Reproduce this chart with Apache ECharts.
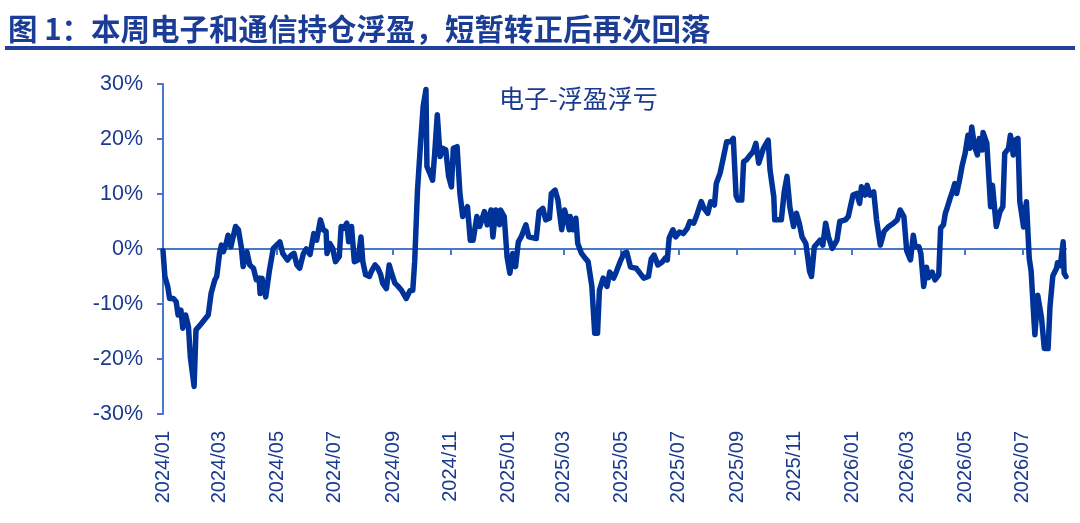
<!DOCTYPE html>
<html>
<head>
<meta charset="utf-8">
<script src="https://cdn.jsdelivr.net/npm/echarts@6/dist/echarts.min.js"></script>
<style>
  html, body { margin: 0; padding: 0; background: #fff; }
  #chart { width: 1080px; height: 523px; }
</style>
</head>
<body>
<div id="chart"></div>
<script>
// dates of each reading and the matching profit/loss, in %
const dates = [
  "2024-01-01","2024-01-03","2024-01-06","2024-01-08","2024-01-12","2024-01-15","2024-01-17","2024-01-20",
  "2024-01-22","2024-01-25","2024-01-28","2024-01-30","2024-02-03","2024-02-05","2024-02-11","2024-02-18",
  "2024-02-21","2024-02-25","2024-02-27","2024-03-01","2024-03-03","2024-03-05","2024-03-08","2024-03-10",
  "2024-03-13","2024-03-15","2024-03-18","2024-03-21","2024-03-24","2024-03-26","2024-03-30","2024-04-02",
  "2024-04-06","2024-04-09","2024-04-12","2024-04-13","2024-04-15","2024-04-19","2024-04-23","2024-04-27",
  "2024-05-04","2024-05-07","2024-05-12","2024-05-16","2024-05-19","2024-05-22","2024-05-25","2024-05-29",
  "2024-06-01","2024-06-05","2024-06-09","2024-06-12","2024-06-16","2024-06-19","2024-06-22","2024-06-23",
  "2024-06-26","2024-06-29","2024-07-02","2024-07-06","2024-07-08","2024-07-11","2024-07-14","2024-07-16",
  "2024-07-19","2024-07-21","2024-07-22","2024-07-26","2024-07-29","2024-07-31","2024-08-03","2024-08-07",
  "2024-08-09","2024-08-13","2024-08-16","2024-08-19","2024-08-21","2024-08-25","2024-08-28","2024-08-30",
  "2024-09-03","2024-09-06","2024-09-10","2024-09-15","2024-09-19","2024-09-22","2024-09-24","2024-09-27",
  "2024-09-30","2024-10-03","2024-10-06","2024-10-07","2024-10-10","2024-10-13","2024-10-15","2024-10-18",
  "2024-10-21","2024-10-24","2024-10-27","2024-10-30","2024-11-02","2024-11-04","2024-11-08","2024-11-11",
  "2024-11-14","2024-11-19","2024-11-22","2024-11-25","2024-11-29","2024-12-02","2024-12-07","2024-12-10",
  "2024-12-14","2024-12-16","2024-12-19","2024-12-23","2024-12-24","2024-12-28","2024-12-31","2025-01-03",
  "2025-01-06","2025-01-09","2025-01-12","2025-01-15","2025-01-20","2025-01-23","2025-01-31","2025-02-03",
  "2025-02-07","2025-02-10","2025-02-14","2025-02-16","2025-02-20","2025-02-23","2025-02-27","2025-03-02",
  "2025-03-04","2025-03-07","2025-03-08","2025-03-11","2025-03-14","2025-03-16","2025-03-20","2025-03-24",
  "2025-03-27","2025-03-31","2025-04-03","2025-04-06","2025-04-08","2025-04-12","2025-04-16","2025-04-19",
  "2025-04-23","2025-04-26","2025-04-30","2025-05-04","2025-05-07","2025-05-11","2025-05-17","2025-05-21",
  "2025-05-25","2025-05-30","2025-06-02","2025-06-05","2025-06-09","2025-06-14","2025-06-17","2025-06-19",
  "2025-06-21","2025-06-25","2025-06-28","2025-07-02","2025-07-06","2025-07-10","2025-07-13","2025-07-17",
  "2025-07-20","2025-07-25","2025-07-28","2025-08-01","2025-08-04","2025-08-08","2025-08-10","2025-08-14",
  "2025-08-17","2025-08-21","2025-08-25","2025-08-28","2025-08-31","2025-09-02","2025-09-06","2025-09-08",
  "2025-09-11","2025-09-15","2025-09-18","2025-09-21","2025-09-24","2025-09-29","2025-10-04","2025-10-06",
  "2025-10-10","2025-10-11","2025-10-15","2025-10-18","2025-10-21","2025-10-24","2025-10-27","2025-10-31",
  "2025-11-03","2025-11-06","2025-11-09","2025-11-13","2025-11-17","2025-11-19","2025-11-22","2025-11-25",
  "2025-11-28","2025-12-01","2025-12-04","2025-12-07","2025-12-11","2025-12-16","2025-12-19","2025-12-25",
  "2025-12-28","2026-01-02","2026-01-06","2026-01-09","2026-01-11","2026-01-15","2026-01-17","2026-01-20",
  "2026-01-24","2026-01-27","2026-01-31","2026-02-04","2026-02-09","2026-02-14","2026-02-18","2026-02-21",
  "2026-02-25","2026-02-28","2026-03-04","2026-03-07","2026-03-09","2026-03-13","2026-03-15","2026-03-18",
  "2026-03-21","2026-03-23","2026-03-27","2026-03-30","2026-04-03","2026-04-05","2026-04-08","2026-04-10",
  "2026-04-12","2026-04-15","2026-04-18","2026-04-20","2026-04-22","2026-04-25","2026-04-28","2026-05-01",
  "2026-05-04","2026-05-06","2026-05-08","2026-05-11","2026-05-14","2026-05-16","2026-05-19","2026-05-20",
  "2026-05-24","2026-05-28","2026-05-30","2026-06-03","2026-06-07","2026-06-10","2026-06-12","2026-06-16",
  "2026-06-18","2026-06-21","2026-06-23","2026-06-26","2026-06-28","2026-07-02","2026-07-05","2026-07-08",
  "2026-07-10","2026-07-13","2026-07-14","2026-07-17","2026-07-21","2026-07-24","2026-07-28","2026-07-30",
  "2026-08-02","2026-08-06","2026-08-07","2026-08-10","2026-08-13","2026-08-14","2026-08-16"
];

const values = [
  -0.3, -5.0, -6.8, -9.0, -9.0, -9.6, -12.0, -11.1,
  -14.4, -12.0, -14.1, -19.6, -25.0, -14.7, -13.5, -12.0,
  -8.1, -5.6, -5.0, -0.8, 0.7, -0.5, 1.0, 2.5,
  0.4, 1.9, 4.1, 3.5, 0.4, -3.2, -0.5, -2.9,
  -3.5, -5.6, -5.3, -8.1, -5.3, -8.7, -3.8, 0.1,
  1.3, -0.8, -2.0, -1.1, -0.8, -2.9, -3.5, -0.8,
  0.0, -1.0, 2.8, 1.6, 5.3, 3.5, 3.2, -0.8,
  1.0, 0.1, -2.3, -1.4, 4.1, 3.8, 4.7, 1.3,
  4.1, 3.8, -2.3, -2.0, 2.2, -2.3, -4.7, -5.0,
  -4.1, -2.9, -3.5, -4.7, -6.2, -7.2, -2.9, -4.1,
  -6.2, -6.7, -7.5, -9.0, -7.6, -7.5, -2.3, 10.7,
  18.6, 25.9, 29.0, 15.0, 13.8, 12.5, 16.8, 24.4,
  16.8, 18.3, 18.0, 13.2, 11.3, 18.3, 18.6, 10.1,
  5.9, 7.7, 1.6, 1.6, 5.9, 4.1, 6.8, 4.4,
  7.1, 2.2, 7.1, 4.4, 7.1, 5.9, -1.4, -4.4,
  -0.8, -3.2, 1.3, 2.2, 4.4, 2.2, 1.9, 6.8,
  7.4, 5.3, 5.6, 10.1, 10.7, 8.9, 3.5, 7.1,
  5.9, 3.5, 5.9, 3.5, 5.6, 1.0, -0.8, -1.7,
  -2.3, -6.8, -15.3, -15.3, -7.5, -5.3, -6.8, -4.2,
  -5.3, -4.1, -2.3, -0.8, -0.6, -3.3, -3.5, -4.4,
  -5.3, -5.0, -1.8, -1.1, -2.9, -2.3, -1.6, -2.0,
  2.0, 3.5, 2.2, 3.1, 2.8, 3.7, 5.0, 4.7,
  6.0, 8.6, 7.4, 6.5, 8.6, 8.0, 11.9, 13.8,
  16.2, 19.5, 19.5, 20.1, 9.7, 8.9, 8.9, 15.9,
  16.2, 17.1, 17.7, 19.2, 15.6, 18.3, 19.8, 14.4,
  9.5, 5.3, 5.3, 5.3, 10.3, 13.2, 7.7, 4.1,
  6.5, 4.7, 2.2, 1.0, -4.1, -5.0, 0.4, 1.0,
  1.6, 0.7, 4.7, 2.2, 0.1, 1.6, 5.0, 5.3,
  5.9, 9.8, 10.1, 8.3, 11.3, 9.8, 11.6, 9.8,
  10.4, 5.3, 0.7, 3.2, 4.1, 4.7, 5.3, 7.1,
  5.9, -0.3, -2.0, 2.5, 0.4, 0.4, -0.8, -6.8,
  -3.3, -5.2, -4.2, -5.6, -4.7, 3.8, 4.4, 6.5,
  7.5, 9.2, 10.7, 11.9, 10.1, 12.5, 15.3, 17.4,
  20.7, 18.3, 22.2, 18.6, 17.1, 20.1, 18.0, 21.2,
  19.2, 7.7, 11.6, 4.1, 6.8, 7.7, 17.4, 18.3,
  20.7, 17.1, 19.8, 20.1, 8.6, 4.0, 8.6, -1.7,
  -4.0, -12.9, -15.6, -8.4, -12.5, -18.1, -18.1, -10.5,
  -4.9, -3.5, -2.5, -3.0, 1.3, -4.4, -5.0
];

// month starts that carry a label on the x axis
const tickMonths = [
  "2024-01-01","2024-03-01","2024-05-01","2024-07-01","2024-09-01","2024-11-01",
  "2025-01-01","2025-03-01","2025-05-01","2025-07-01","2025-09-01","2025-11-01",
  "2026-01-01","2026-03-01","2026-05-01","2026-07-01"
];

const yTicks = { min: -30, max: 30, step: 10 };

// dates -> epoch ms (UTC), used as the x value
const toMs = (s) => Date.parse(s + "T00:00:00Z");
const tickMs = tickMonths.map(toMs);

function monthLabel(v) {
  const d = new Date(v);
  const m = d.getUTCMonth() + 1;
  return d.getUTCFullYear() + "/" + (m < 10 ? "0" + m : m);
}

const chartDom = document.getElementById("chart");
const myChart = echarts.init(chartDom, null, { renderer: "canvas" });

const LINE_BLUE = "#003399";
const AXIS_BLUE = "#4a78c8";
const TEXT_BLUE = "#1a3a8f";
const LATIN = "'Liberation Sans', Arial, sans-serif";
const CJK = "'Noto Sans CJK SC', 'Liberation Sans', sans-serif";

const xMin = toMs(dates[0]);
const xMax = toMs(dates[dates.length - 1]);

const option = {
  animation: false,
  backgroundColor: "#fff",
  grid: { left: 163, right: 14, top: 84, bottom: 109, containLabel: false },
  graphic: [
    {
      type: "text",
      left: 8,
      top: 14,
      style: {
        text: "图 1：本周电子和通信持仓浮盈，短暂转正后再次回落",
        font: "bold 29.5px " + CJK,
        fill: "#1c3d96",
      },
    },
    {
      type: "rect",
      shape: { x: 5, y: 46, width: 1070, height: 4 },
      style: { fill: "#1f3f9a" },
    },
    {
      type: "text",
      left: 499,
      top: 86,
      style: {
        text: "电子-浮盈浮亏",
        font: "25px " + CJK,
        fill: TEXT_BLUE,
      },
    },
  ],
  xAxis: [
    {
      // line + ticks sitting on the zero level
      type: "value",
      position: "bottom",
      min: xMin,
      max: xMax,
      axisLine: { show: true, onZero: true, lineStyle: { color: AXIS_BLUE, width: 2 } },
      axisTick: {
        show: true,
        length: 6,
        inside: false,
        customValues: tickMs,
        lineStyle: { color: AXIS_BLUE, width: 2 },
      },
      axisLabel: { show: false },
      splitLine: { show: false },
    },
    {
      // labels along the bottom of the plot
      type: "value",
      position: "bottom",
      min: xMin,
      max: xMax,
      axisLine: { show: false, onZero: false },
      axisTick: { show: false },
      splitLine: { show: false },
      axisLabel: {
        show: true,
        rotate: 90,
        margin: 17,
        customValues: tickMs,
        color: TEXT_BLUE,
        fontSize: 20,
        fontFamily: LATIN,
        formatter: monthLabel,
      },
    },
  ],
  yAxis: {
    type: "value",
    min: yTicks.min,
    max: yTicks.max,
    interval: yTicks.step,
    axisLine: { show: true, lineStyle: { color: AXIS_BLUE, width: 2 } },
    axisTick: { show: true, length: 6, lineStyle: { color: AXIS_BLUE, width: 2 } },
    splitLine: { show: false },
    axisLabel: {
      color: TEXT_BLUE,
      fontSize: 21.5,
      fontFamily: LATIN,
      margin: 20,
      formatter: "{value}%",
    },
  },
  series: [
    {
      name: "电子-浮盈浮亏",
      type: "line",
      xAxisIndex: 0,
      showSymbol: false,
      smooth: false,
      lineStyle: { color: LINE_BLUE, width: 5.5, join: "round", cap: "round" },
      data: dates.map((d, i) => [toMs(d), values[i]]),
    },
  ],
};

myChart.setOption(option);

window.addEventListener("resize", () => {
  myChart.resize();
});
</script>
</body>
</html>
